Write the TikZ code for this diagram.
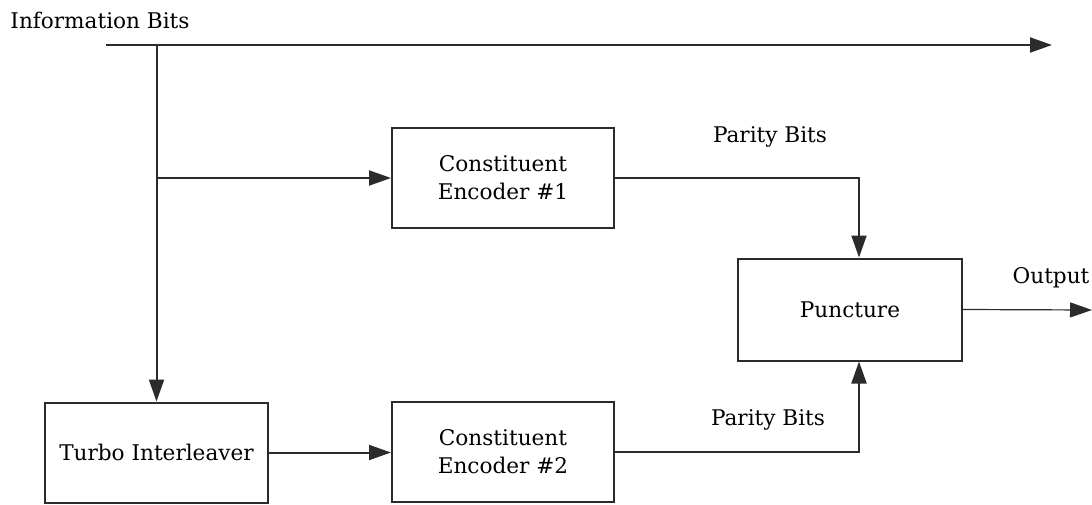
\documentclass[tikz,border=0pt]{standalone}
\usepackage{fontspec}
\setmainfont{DejaVu Serif}
\usetikzlibrary{arrows.meta,positioning}
\definecolor{ink}{HTML}{2B2B2B}
\tikzset{
  box/.style={draw=ink, line width=1pt, align=center, font=\fontsize{10.8}{14}\selectfont, inner sep=2pt},
  encoder/.style={box, minimum width=111pt, minimum height=50pt},
  arrow/.style={-{Triangle[length=11pt,width=7.5pt]}, line width=1pt, draw=ink},
  line/.style={line width=1pt, draw=ink},
  label/.style={font=\fontsize{10.8}{13}\selectfont, inner sep=0pt}
}
\begin{document}
\begin{tikzpicture}[x=0.5pt,y=-0.5pt]
\useasboundingbox (0,0) rectangle (1092,504);
\node[encoder] (enc1) at (503,178) {Constituent\\Encoder \#1};
\node[encoder] (enc2) at (503,452) {Constituent\\Encoder \#2};
\node[encoder, minimum width=111.5pt] (inter) at (156.5,452.5) {Turbo Interleaver};
\node[encoder, minimum width=112pt, minimum height=51pt] (punc) at (850,309.5) {Puncture};
\coordinate (infostart) at (106,45);
\coordinate (tap) at (156.5,45);
\coordinate (infoend) at (1052,45);
\coordinate (outend) at (1092,310);
\node[label] (infolbl) at (100,20) {Information Bits};
\node[label] (par1) at (770,137) {Parity Bits};
\node[label] (par2) at (768,420) {Parity Bits};
\node[label] (outlbl) at (1051,278) {Output};
\draw[arrow] (infostart) -- (infoend);
\draw[arrow] (tap) -- (inter.north);
\draw[arrow] (tap |- enc1.west) -- (enc1.west);
\draw[arrow] (inter.east) -- (inter.east -| enc2.west);
\draw[arrow] (enc1.east) -| ([xshift=4.5pt]punc.north);
\draw[arrow] (enc2.east) -| ([xshift=4.5pt]punc.south);
\draw[arrow, line width=0.6pt] (punc.east) -- (outend);
\end{tikzpicture}
\end{document}
